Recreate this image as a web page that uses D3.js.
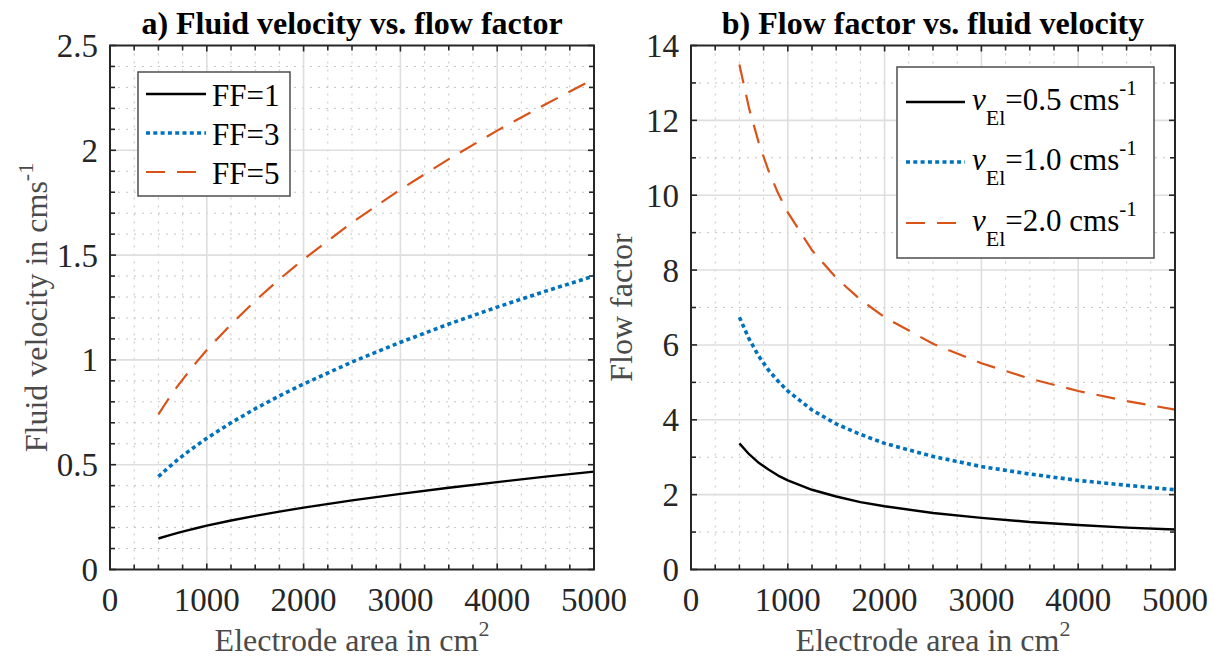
<!DOCTYPE html>
<html>
<head>
<meta charset="utf-8">
<script src="https://cdn.jsdelivr.net/npm/d3@7"></script>
<style>
  html, body { margin: 0; padding: 0; background: #fff; }
  svg { display: block; }
  svg text { font-family: "Liberation Serif", "Times New Roman", Times, serif; }
</style>
</head>
<body>
<svg id="chart" width="1215" height="664"></svg>
<script>
// Electrode area samples (cm^2)
const areas = [500, 600, 700, 800, 900, 1000, 1250, 1500, 1750, 2000, 2500, 3000, 3500, 4000, 4500, 5000];

// a) fluid velocity (cm/s) for each flow factor
const velFF1 = [0.148, 0.162, 0.175, 0.187, 0.198, 0.209, 0.234, 0.256, 0.276, 0.295, 0.330, 0.361, 0.390, 0.417, 0.443, 0.467];
const velFF3 = [0.443, 0.485, 0.524, 0.560, 0.594, 0.626, 0.700, 0.767, 0.828, 0.885, 0.990, 1.084, 1.171, 1.252, 1.328, 1.400];
const velFF5 = [0.740, 0.811, 0.876, 0.936, 0.993, 1.047, 1.170, 1.282, 1.385, 1.480, 1.655, 1.813, 1.958, 2.094, 2.220, 2.340];

// b) flow factor for each electrolyte velocity
const ffV05 = [3.37, 3.08, 2.85, 2.67, 2.51, 2.38, 2.13, 1.95, 1.80, 1.69, 1.51, 1.38, 1.27, 1.19, 1.12, 1.07];
const ffV10 = [6.74, 6.16, 5.70, 5.33, 5.03, 4.77, 4.26, 3.89, 3.61, 3.37, 3.02, 2.75, 2.55, 2.38, 2.25, 2.13];
const ffV20 = [13.49, 12.32, 11.40, 10.66, 10.05, 9.54, 8.53, 7.79, 7.21, 6.74, 6.03, 5.51, 5.10, 4.77, 4.50, 4.27];

// Tick values and labels
const xTicks = [0, 1000, 2000, 3000, 4000, 5000];
const yTicksA = [0, 0.5, 1, 1.5, 2, 2.5];
const yTickLabelsA = ["0", "0.5", "1", "1.5", "2", "2.5"];
const yTicksB = [0, 2, 4, 6, 8, 10, 12, 14];
const yTickLabelsB = ["0", "2", "4", "6", "8", "10", "12", "14"];

const legendA = ["FF=1", "FF=3", "FF=5"];
const legendB = ["0.5", "1.0", "2.0"];

const COLORS = ["#000000", "#0072BD", "#D95319"];
const DASHES = [null, "4,3.3", "19,12"];
const WIDTHS = [2.4, 3.6, 2.2];

const svg = d3.select("#chart");
const TOP = 45.5, BOTTOM = 569.5;
const TICKC = "#262626";
const LABELC = "#4a4a4a";

function range(a, b, step) {
  const out = [];
  for (let v = a; v <= b + 1e-9; v += step) out.push(+v.toFixed(6));
  return out;
}

function panel(opts) {
  const x = d3.scaleLinear().domain([0, 5000]).range([opts.left, opts.right]);
  const y = d3.scaleLinear().domain([0, opts.ymax]).range([BOTTOM, TOP]);
  const g = svg.append("g");

  const xMinor = range(0, 5000, 250).filter(v => !xTicks.includes(v));
  const yMinor = range(0, opts.ymax, opts.yMinorStep).filter(v => !opts.yTicks.some(t => Math.abs(t - v) < 1e-6));

  // minor grid (dotted)
  g.selectAll(".gxm").data(xMinor).join("line")
    .attr("x1", d => x(d)).attr("x2", d => x(d)).attr("y1", TOP).attr("y2", BOTTOM)
    .attr("stroke", "#c4c4c4").attr("stroke-width", 1).attr("stroke-dasharray", "2,6");
  g.selectAll(".gym").data(yMinor).join("line")
    .attr("y1", d => y(d)).attr("y2", d => y(d)).attr("x1", opts.left).attr("x2", opts.right)
    .attr("stroke", "#c4c4c4").attr("stroke-width", 1).attr("stroke-dasharray", "2,6");
  // major grid
  g.selectAll(".gx").data(xTicks.slice(1, -1)).join("line")
    .attr("x1", d => x(d)).attr("x2", d => x(d)).attr("y1", TOP).attr("y2", BOTTOM)
    .attr("stroke", "#dedede").attr("stroke-width", 1.6);
  g.selectAll(".gy").data(opts.yTicks.slice(1, -1)).join("line")
    .attr("y1", d => y(d)).attr("y2", d => y(d)).attr("x1", opts.left).attr("x2", opts.right)
    .attr("stroke", "#dedede").attr("stroke-width", 1.6);

  // inward ticks on all four sides
  const tk = g.append("g").attr("stroke", TICKC).attr("stroke-width", 1.6);
  const xt = xTicks.map(v => [v, 6]).concat(xMinor.map(v => [v, 5]));
  const yt = opts.yTicks.map(v => [v, 6]).concat(yMinor.map(v => [v, 5]));
  xt.forEach(([v, L]) => {
    tk.append("line").attr("x1", x(v)).attr("x2", x(v)).attr("y1", BOTTOM).attr("y2", BOTTOM - L);
    tk.append("line").attr("x1", x(v)).attr("x2", x(v)).attr("y1", TOP).attr("y2", TOP + L);
  });
  yt.forEach(([v, L]) => {
    tk.append("line").attr("y1", y(v)).attr("y2", y(v)).attr("x1", opts.left).attr("x2", opts.left + L);
    tk.append("line").attr("y1", y(v)).attr("y2", y(v)).attr("x1", opts.right).attr("x2", opts.right - L);
  });

  // data lines
  const line = d3.line().x((d, i) => x(areas[i])).y(d => y(d));
  opts.series.forEach((s, i) => {
    g.append("path").datum(s).attr("d", line)
      .attr("fill", "none").attr("stroke", COLORS[i]).attr("stroke-width", WIDTHS[i])
      .attr("stroke-dasharray", DASHES[i]).attr("stroke-linejoin", "round");
  });

  // axes box
  g.append("rect").attr("x", opts.left).attr("y", TOP)
    .attr("width", opts.right - opts.left).attr("height", BOTTOM - TOP)
    .attr("fill", "none").attr("stroke", TICKC).attr("stroke-width", 2);

  // tick labels
  g.selectAll(".xl").data(xTicks).join("text")
    .attr("x", d => x(d)).attr("y", 611)
    .attr("text-anchor", "middle").attr("font-size", 33).attr("fill", TICKC)
    .text(d => d3.format("d")(d));
  g.selectAll(".yl").data(opts.yTicks).join("text")
    .attr("x", opts.left - 12).attr("y", d => y(d) + 11.5)
    .attr("text-anchor", "end").attr("font-size", 33).attr("fill", TICKC)
    .text((d, i) => opts.yLabels[i]);

  // title
  g.append("text").attr("x", (opts.left + opts.right) / 2).attr("y", 34)
    .attr("text-anchor", "middle").attr("font-size", 32).attr("font-weight", "bold").attr("fill", "#000")
    .text(opts.title);

  // x label
  const xl = g.append("text").attr("x", (opts.left + opts.right) / 2).attr("y", 651)
    .attr("text-anchor", "middle").attr("font-size", 32).attr("fill", LABELC);
  xl.append("tspan").text("Electrode area in cm");
  xl.append("tspan").attr("dy", -15).attr("font-size", 22).text("2");

  // y label
  const yl = g.append("text")
    .attr("transform", `translate(${opts.ylabelX},${(TOP + BOTTOM) / 2}) rotate(-90)`)
    .attr("text-anchor", "middle").attr("font-size", 32).attr("fill", LABELC);
  opts.ylabel(yl);

  return { x, y, g };
}

// ---------- panel a ----------
panel({
  left: 110, right: 594, ymax: 2.5, yMinorStep: 0.1,
  yTicks: yTicksA, yLabels: yTickLabelsA,
  series: [velFF1, velFF3, velFF5],
  title: "a) Fluid velocity vs. flow factor",
  ylabelX: 47,
  ylabel: t => {
    t.append("tspan").text("Fluid velocity in cms");
    t.append("tspan").attr("dy", -14).attr("font-size", 22).text("-1");
  }
});

// ---------- panel b ----------
panel({
  left: 691, right: 1175, ymax: 14, yMinorStep: 1,
  yTicks: yTicksB, yLabels: yTickLabelsB,
  series: [ffV05, ffV10, ffV20],
  title: "b) Flow factor vs. fluid velocity",
  ylabelX: 632,
  ylabel: t => { t.append("tspan").text("Flow factor"); }
});

// ---------- legends ----------
function legendBox(x0, y0, w, h) {
  svg.append("rect").attr("x", x0).attr("y", y0).attr("width", w).attr("height", h)
    .attr("fill", "#fff").attr("stroke", "#4d4d4d").attr("stroke-width", 1.5);
}

legendBox(138, 72, 152, 124);
const rowsA = [94, 133, 172];
legendA.forEach((lab, i) => {
  svg.append("line").attr("x1", 146).attr("x2", 206).attr("y1", rowsA[i]).attr("y2", rowsA[i])
    .attr("stroke", COLORS[i]).attr("stroke-width", WIDTHS[i]).attr("stroke-dasharray", DASHES[i]);
  svg.append("text").attr("x", 212).attr("y", rowsA[i] + 12)
    .attr("font-size", 31).attr("fill", "#000").text(lab);
});

legendBox(897, 67, 257, 191);
const rowsB = [102, 162, 223];
legendB.forEach((lab, i) => {
  svg.append("line").attr("x1", 906).attr("x2", 965).attr("y1", rowsB[i]).attr("y2", rowsB[i])
    .attr("stroke", COLORS[i]).attr("stroke-width", WIDTHS[i]).attr("stroke-dasharray", DASHES[i]);
  const t = svg.append("text").attr("x", 972).attr("y", rowsB[i] + 8)
    .attr("font-size", 31).attr("fill", "#000");
  t.append("tspan").attr("font-style", "italic").text("v");
  t.append("tspan").attr("dy", 15).attr("font-size", 22).text("El");
  t.append("tspan").attr("dy", -15).text("=" + lab + " cms");
  t.append("tspan").attr("dy", -15).attr("font-size", 21).text("-1");
});
</script>
</body>
</html>
